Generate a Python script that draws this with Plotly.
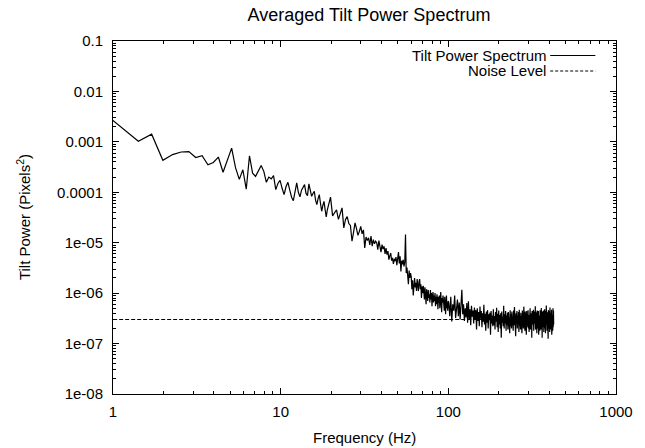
import plotly.graph_objects as go

# ---------------- data ----------------
# FFT bin width of the averaged spectrum (Hz); the spectrum is sampled at k * bin width
bin_width_hz = 850 / 3000

# bin indices of the plotted points (dense at low f, thinned at high f)
bins_low = list(range(3, 71))            # every bin, 0.85 .. 19.8 Hz
bins_mid = list(range(72, 353, 2))       # every 2nd bin, 20.4 .. 99.7 Hz
bins_high = list(range(355, 1501, 5))    # every 5th bin, 100.6 .. 425 Hz

spectrum_low = [
    4.1e-3, 1.9e-3, 1.03e-3, 1.42e-3, 4.3e-4, 5.6e-4, 6.3e-4, 6.4e-4, 4.9e-4, 5.3e-4,
    3.5e-4, 3.9e-4, 5.0e-4, 2.5e-4, 4.2e-4, 7.5e-4, 3.05e-4, 1.8e-4, 2.8e-4, 1.15e-4,
    5.3e-4, 2.4e-4, 2.07e-4, 2.6e-4, 3.4e-4, 2.6e-4, 1.58e-4, 2.0e-4, 1.85e-4, 2.14e-4,
    1.13e-4, 1.5e-4, 1.73e-4, 1.2e-4, 9.0e-5, 1.3e-4, 1.58e-4, 1.1e-4, 8.0e-5, 6.8e-5,
    1.1e-4, 1.54e-4, 1.0e-4, 8.1e-5, 1.1e-4, 1.25e-4, 1.42e-4, 9.5e-5, 8.6e-5, 1.47e-4,
    1.0e-4, 8.3e-5, 9.5e-5, 1.05e-4, 7.0e-5, 5.7e-5, 7.5e-5, 9.0e-5, 6.0e-5, 4.2e-5,
    5.5e-5, 6.6e-5, 4.5e-5, 3.25e-5, 4.5e-5, 5.7e-5, 6.5e-5, 8.0e-5,
]

spectrum_mid = [
    3.4e-5, 3.9e-5, 4.5e-5, 2.9e-5, 3.8e-5, 4.9e-5, 1.97e-5, 2.9e-5, 3.3e-5, 2.4e-5,
    2.2e-5, 1.07e-5, 1.6e-5, 2.47e-5, 1.9e-5, 1.4e-5, 1.68e-5, 2.1e-5, 1.5e-5, 1.8e-5,
    7.9e-6, 1.3e-5, 1.1e-5, 1.25e-5, 9.0e-6, 1.35e-5, 8.5e-6, 1.15e-5, 9.5e-6, 1.07e-5,
    1.0e-5, 7.3e-6, 1.1e-5, 8.0e-6, 6.5e-6, 9.2e-6, 7.5e-6, 8.5e-6, 6.0e-6, 7.8e-6,
    5.8e-6, 6.8e-6, 4.6e-6, 5.5e-6, 6.2e-6, 4.4e-6, 5.0e-6, 3.8e-6, 4.8e-6, 4.3e-6,
    5.2e-6, 3.6e-6, 4.5e-6, 6.5e-6, 3.9e-6, 5.4e-6, 2.7e-6, 4.4e-6, 3.7e-6, 4.6e-6,
    3.4e-6, 4.1e-6, 1.45e-5, 2.5e-6, 3.2e-6, 2.2e-6, 1.5e-6, 2.8e-6, 2.0e-6, 2.5e-6,
    2.1e-6, 1.2e-6, 1.8e-6, 9.0e-7, 1.6e-6, 2.0e-6, 1.3e-6, 1.6e-6, 1.1e-6, 1.9e-6,
    1.4e-6, 1.1e-6, 1.7e-6, 1.9e-6, 1.2e-6, 1.5e-6, 8.0e-7, 1.35e-6, 1.0e-6, 1.4e-6,
    1.1e-6, 7.5e-7, 1.3e-6, 9.0e-7, 6.0e-7, 1.2e-6, 1.0e-6, 7.0e-7, 1.15e-6, 8.0e-7,
    9.5e-7, 6.5e-7, 1.15e-6, 7.5e-7, 1.0e-6, 5.5e-7, 8.5e-7, 1.05e-6, 6.5e-7, 9.0e-7,
    7.0e-7, 1.0e-6, 5.5e-7, 8.5e-7, 6.0e-7, 9.5e-7, 7.5e-7, 4.8e-7, 8.5e-7, 6.5e-7,
    9.0e-7, 5.0e-7, 7.5e-7, 1.05e-6, 6.0e-7, 4.2e-7, 8.0e-7, 6.5e-7, 9.0e-7, 5.5e-7,
    7.5e-7, 4.5e-7, 8.5e-7, 6.0e-7, 3.8e-7, 7.0e-7, 9.0e-7, 5.0e-7, 6.5e-7, 4.5e-7,
    7.0e-7,
]

spectrum_high = [
    6.5e-7, 3.5e-7, 8.5e-7, 2.75e-7, 6.0e-7, 4.5e-7, 9.0e-7, 3.2e-7, 5.5e-7, 7.5e-7,
    3.5e-7, 6.5e-7, 3.0e-7, 5.5e-7, 1.17e-6, 3.8e-7, 6.0e-7, 2.8e-7, 5.0e-7, 3.3e-7,
    6.4e-7, 2.6e-7, 6.9e-7, 3.0e-7, 4.8e-7, 2.3e-7, 5.6e-7, 3.4e-7, 4.5e-7, 2.5e-7,
    5.2e-7, 3.0e-7, 4.6e-7, 1.9e-7, 5.0e-7, 2.8e-7, 4.2e-7, 2.2e-7, 5.4e-7, 3.1e-7,
    4.4e-7, 2.1e-7, 4.0e-7, 2.7e-7, 5.9e-7, 2.4e-7, 3.9e-7, 1.8e-7, 4.3e-7, 2.6e-7,
    4.6e-7, 2.0e-7, 3.8e-7, 2.9e-7, 4.1e-7, 1.5e-7, 4.4e-7, 2.5e-7, 3.6e-7, 2.2e-7,
    4.8e-7, 2.3e-7, 3.5e-7, 1.9e-7, 4.2e-7, 2.7e-7, 5.1e-7, 2.1e-7, 3.9e-7, 1.7e-7,
    4.5e-7, 2.4e-7, 3.7e-7, 2.0e-7, 4.0e-7, 1.3e-7, 4.3e-7, 2.6e-7, 3.4e-7, 2.2e-7,
    5.6e-7, 2.0e-7, 3.8e-7, 2.5e-7, 4.4e-7, 1.8e-7, 3.6e-7, 2.3e-7, 4.1e-7, 1.9e-7,
    4.2e-7, 2.6e-7, 3.5e-7, 1.6e-7, 4.6e-7, 2.2e-7, 3.9e-7, 2.0e-7, 4.3e-7, 2.4e-7,
    3.7e-7, 1.8e-7, 4.5e-7, 2.3e-7, 5.3e-7, 2.1e-7, 3.8e-7, 1.4e-7, 4.0e-7, 2.5e-7,
    4.4e-7, 2.0e-7, 3.6e-7, 2.4e-7, 4.2e-7, 1.7e-7, 4.7e-7, 2.2e-7, 3.5e-7, 1.9e-7,
    4.1e-7, 2.3e-7, 3.8e-7, 1.6e-7, 4.5e-7, 2.5e-7, 3.4e-7, 2.0e-7, 5.4e-7, 2.2e-7,
    3.9e-7, 1.8e-7, 4.3e-7, 2.6e-7, 3.6e-7, 1.5e-7, 4.4e-7, 2.1e-7, 3.8e-7, 2.4e-7,
    4.6e-7, 2.0e-7, 3.7e-7, 1.7e-7, 4.2e-7, 2.3e-7, 5.0e-7, 1.9e-7, 3.5e-7, 2.5e-7,
    4.0e-7, 1.3e-7, 4.4e-7, 2.2e-7, 3.8e-7, 2.4e-7, 4.7e-7, 1.8e-7, 3.6e-7, 2.1e-7,
    4.3e-7, 2.5e-7, 5.5e-7, 1.9e-7, 3.9e-7, 2.2e-7, 4.1e-7, 1.6e-7, 4.5e-7, 2.3e-7,
    3.7e-7, 2.0e-7, 4.4e-7, 1.5e-7, 4.2e-7, 2.6e-7, 3.6e-7, 1.8e-7, 4.6e-7, 2.2e-7,
    4.0e-7, 1.9e-7, 5.1e-7, 2.4e-7, 3.8e-7, 1.3e-7, 4.3e-7, 2.1e-7, 3.9e-7, 2.5e-7,
    4.5e-7, 1.7e-7, 3.7e-7, 2.3e-7, 4.8e-7, 2.0e-7, 3.5e-7, 1.6e-7, 4.4e-7, 2.4e-7,
    5.7e-7, 2.1e-7, 4.0e-7, 1.8e-7, 4.2e-7, 2.5e-7, 3.6e-7, 1.25e-7, 4.6e-7, 2.2e-7,
    3.9e-7, 2.0e-7, 4.4e-7, 1.7e-7, 5.2e-7, 2.3e-7, 3.8e-7, 1.9e-7, 4.1e-7, 2.6e-7,
    4.7e-7, 1.5e-7, 4.3e-7, 2.2e-7, 3.7e-7, 1.8e-7, 5.0e-7, 2.1e-7, 4.5e-7, 2.4e-7,
]

noise_level = 3.0e-7

x_tick_vals = [1, 10, 100, 1000]
x_tick_text = ["1", "10", "100", "1000"]
y_tick_vals = [1e-8, 1e-7, 1e-6, 1e-5, 1e-4, 1e-3, 1e-2, 1e-1]
y_tick_text = ["1e-08", "1e-07", "1e-06", "1e-05", "0.0001", "0.001", "0.01", "0.1"]

title_text = "Averaged Tilt Power Spectrum"
x_title = "Frequency (Hz)"
y_title = "Tilt Power (Pixels<sup>2</sup>)"
legend_labels = ["Tilt Power Spectrum", "Noise Level"]

# ---------------- figure ----------------
bins = bins_low + bins_mid + bins_high
freq_hz = [k * bin_width_hz for k in bins]
power = spectrum_low + spectrum_mid + spectrum_high

FONT = "Liberation Sans, Arial, Helvetica, sans-serif"
W, H = 645, 448
L, R, T, B = 113, 20, 41, 54
PW, PH = W - L - R, H - T - B

fig = go.Figure()
fig.add_trace(go.Scatter(
    x=freq_hz, y=power, mode="lines",
    line=dict(color="black", width=1.2),
    name=legend_labels[0], showlegend=False, hoverinfo="skip",
))
fig.add_trace(go.Scatter(
    x=[freq_hz[0], freq_hz[-1]], y=[noise_level, noise_level], mode="lines",
    line=dict(color="black", width=1, dash="4px,2px"),
    name=legend_labels[1], showlegend=False, hoverinfo="skip",
))

axis_common = dict(
    type="log", showgrid=False, zeroline=False,
    showline=True, linecolor="black", linewidth=1, mirror="allticks",
    ticks="inside", ticklen=6, tickwidth=1, tickcolor="black",
    tickfont=dict(family=FONT, size=15, color="black"),
    minor=dict(ticks="inside", ticklen=3, tickwidth=1, tickcolor="black",
               dtick="D1", showgrid=False),
)

fig.update_xaxes(range=[0, 3], tickmode="array", tickvals=x_tick_vals,
                 ticktext=x_tick_text, ticklabelstandoff=4, **axis_common)
fig.update_yaxes(range=[-8, -1], tickmode="array", tickvals=y_tick_vals,
                 ticktext=y_tick_text, ticklabelstandoff=6, **axis_common)

# legend drawn gnuplot-style: right-aligned label followed by a line sample
legend_rows_px = [55.5, 71]
annotations = []
shapes = []
for label, ypx, dash in zip(legend_labels, legend_rows_px, ["solid", "3px,2px"]):
    yp = 1 - (ypx - T) / PH
    annotations.append(dict(
        text=label, xref="paper", yref="paper", x=(555 - L) / PW, y=yp,
        xanchor="right", yanchor="middle", showarrow=False, borderpad=0,
        font=dict(family=FONT, size=15, color="black"),
    ))
    shapes.append(dict(
        type="line", xref="paper", yref="paper",
        x0=(558 - L) / PW, x1=(604 - L) / PW, y0=yp, y1=yp,
        line=dict(color="black", width=1, dash=dash),
    ))

annotations.append(dict(
    text=x_title, xref="paper", yref="paper", x=0.5, y=-(437 - (T + PH)) / PH,
    xanchor="center", yanchor="middle", showarrow=False,
    font=dict(family=FONT, size=15, color="black"),
))
annotations.append(dict(
    text=y_title, xref="paper", yref="paper", x=-(L - 22) / PW, y=0.5,
    xanchor="center", yanchor="middle", showarrow=False, textangle=-90,
    font=dict(family=FONT, size=15, color="black"),
))

fig.update_layout(
    width=W, height=H,
    margin=dict(l=L, r=R, t=T, b=B),
    paper_bgcolor="white", plot_bgcolor="white",
    title=dict(text=title_text, x=0.5 * (L + L + PW) / W, xanchor="center",
               y=1 - 15 / H, yanchor="middle", yref="container",
               font=dict(family=FONT, size=18, color="black")),
    annotations=annotations, shapes=shapes,
    showlegend=False,
)

fig.write_html("out.html", config={"displayModeBar": False},
               post_script="document.body.style.margin='0';")
